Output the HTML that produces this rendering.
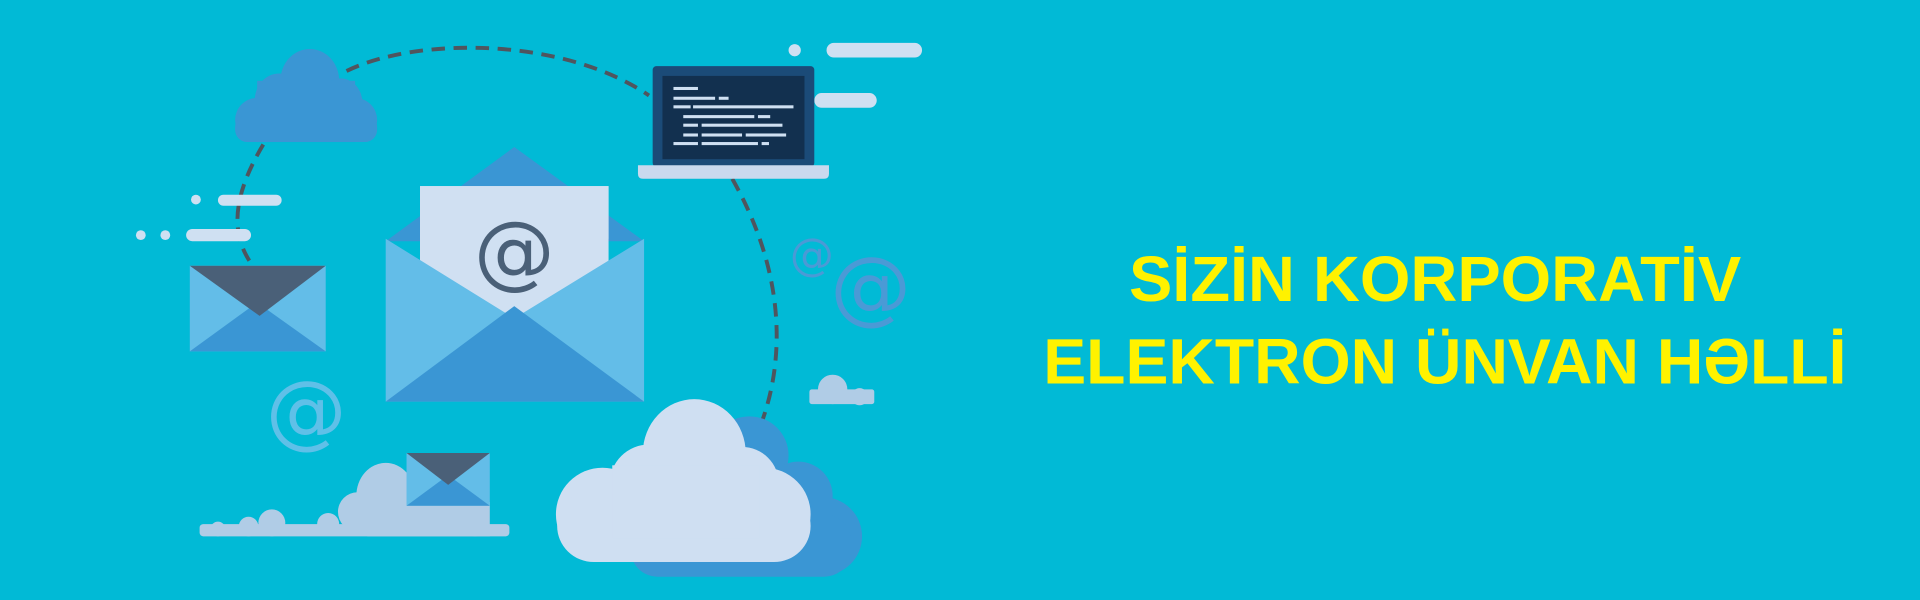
<!DOCTYPE html>
<html><head><style>
html,body{margin:0;padding:0;background:#01BAD6;}
svg{display:block;}
</style></head><body>
<svg width="1920" height="600" viewBox="0 0 1568 490" preserveAspectRatio="none" xmlns="http://www.w3.org/2000/svg">
<rect width="1568" height="490" fill="#01BAD6"/>
<!-- dashed arc -->
<path d="M283,58 C340,30 460,30 530,78" fill="none" stroke="#50555e" stroke-width="3.2" stroke-dasharray="11 7"/>
<path d="M215,118 C190,160 188,190 205,215" fill="none" stroke="#50555e" stroke-width="3.2" stroke-dasharray="11 7"/>
<path d="M598,146 C640,220 642,290 622,345" fill="none" stroke="#50555e" stroke-width="3.2" stroke-dasharray="11 7"/>
<!-- top-left cloud -->
<g fill="#3a96d4">
<ellipse cx="253" cy="66" rx="24" ry="26"/>
<ellipse cx="228" cy="82" rx="20" ry="22"/>
<ellipse cx="278" cy="84" rx="18" ry="20"/>
<ellipse cx="210" cy="98" rx="18" ry="18"/>
<ellipse cx="290" cy="98" rx="18" ry="18"/>
<rect x="210" y="66" width="80" height="50"/>
<rect x="192" y="94" width="116" height="22" rx="10"/>
</g>
<!-- bars and dots -->
<g fill="#cfe0f2">
<circle cx="649" cy="41" r="5"/><rect x="675" y="35" width="78" height="12" rx="6"/>
<rect x="665" y="76" width="51" height="12" rx="6"/>
<circle cx="160" cy="163" r="4"/><rect x="178" y="159" width="52" height="9" rx="4.5"/>
<circle cx="115" cy="192" r="4"/><circle cx="135" cy="192" r="4"/><rect x="152" y="187" width="53" height="10" rx="5"/>
</g>
<!-- laptop -->
<rect x="533" y="54" width="132" height="82" rx="3" fill="#1b4b78"/>
<rect x="541" y="62" width="116" height="68" fill="#12304f"/>
<g fill="#cfe0f2">
<rect x="550" y="71" width="20" height="2.5"/>
<rect x="550" y="79" width="34" height="2.5"/><rect x="587" y="79" width="8" height="2.5"/>
<rect x="550" y="86" width="14" height="2.5"/><rect x="566" y="86" width="82" height="2.5"/>
<rect x="558" y="94" width="58" height="2.5"/><rect x="619" y="94" width="10" height="2.5"/>
<rect x="558" y="101" width="12" height="2.5"/><rect x="573" y="101" width="66" height="2.5"/>
<rect x="558" y="109" width="12" height="2.5"/><rect x="573" y="109" width="33" height="2.5"/><rect x="609" y="109" width="33" height="2.5"/>
<rect x="550" y="116" width="20" height="2.5"/><rect x="573" y="116" width="46" height="2.5"/><rect x="622" y="116" width="6" height="2.5"/>
</g>
<path d="M521,135 H677 V142 Q677,146 673,146 H525 Q521,146 521,142 Z" fill="#c9d9ee"/>
<!-- small envelope left -->
<rect x="155" y="217" width="111" height="70" fill="#63bde8"/>
<polygon points="155,287 210,247 266,287" fill="#3a96d4"/>
<polygon points="155,217 266,217 212,258" fill="#4a6078"/>
<!-- big envelope -->
<polygon points="315,197 420,120 526,197" fill="#3a96d4"/>
<rect x="343" y="152" width="154" height="110" fill="#d0e0f2"/>
<polygon points="315,195 420,260 526,195 526,328 315,328" fill="#63bde8"/>
<polygon points="343,195 420,258 497,195 497,152 343,152" fill="#d0e0f2"/>
<polygon points="315,328 420,250 526,328" fill="#3a96d4"/>
<text x="420" y="228" text-anchor="middle" font-family="DejaVu Sans, sans-serif" font-size="66" fill="#4a6078">@</text>
<!-- @ symbols -->
<text x="663" y="220" text-anchor="middle" font-family="DejaVu Sans, sans-serif" font-size="36" fill="#4a9ad6">@</text>
<text x="711" y="257" text-anchor="middle" font-family="DejaVu Sans, sans-serif" font-size="66" fill="#4a9ad6">@</text>
<text x="250" y="358" text-anchor="middle" font-family="DejaVu Sans, sans-serif" font-size="66" fill="#5fc0e8">@</text>
<!-- small cloud right -->
<g fill="#b0cce6"><circle cx="680" cy="318" r="12"/><circle cx="702" cy="324" r="7"/><rect x="661" y="318" width="53" height="12" rx="2"/></g>
<!-- bottom cloud -->
<g fill="#b0cce6">
<ellipse cx="315" cy="405" rx="24" ry="27"/>
<circle cx="292" cy="418" r="16"/>
<circle cx="268" cy="428" r="9"/><circle cx="222" cy="427" r="11"/><circle cx="203" cy="430" r="8"/><circle cx="178" cy="432" r="6"/>
<circle cx="388" cy="428" r="10"/>
<rect x="300" y="410" width="100" height="28"/>
<rect x="163" y="428" width="253" height="10" rx="3"/>
</g>
<!-- small envelope bottom -->
<rect x="332" y="370" width="68" height="43" fill="#63bde8"/>
<polygon points="332,413 366,388 400,413" fill="#3a96d4"/>
<polygon points="332,370 400,370 366,396" fill="#4a6078"/>
<!-- big cloud back -->
<g fill="#3a96d4">
<circle cx="612" cy="372" r="32"/><circle cx="652" cy="405" r="28"/><circle cx="672" cy="438" r="32"/>
<rect x="515" y="420" width="180" height="51" rx="22"/>
</g>
<!-- big cloud front -->
<g fill="#cfdff2">
<ellipse cx="567" cy="370" rx="42" ry="44"/><circle cx="530" cy="395" r="32"/><circle cx="606" cy="395" r="30"/>
<circle cx="492" cy="420" r="38"/><circle cx="624" cy="420" r="38"/>
<rect x="455" y="400" width="207" height="59" rx="30"/>
<rect x="500" y="380" width="120" height="60"/>
</g>
<!-- title -->
<g font-family="Liberation Sans, DejaVu Sans, sans-serif" font-weight="bold" font-size="52" fill="#fff200" text-anchor="middle">
<text x="1172" y="246" textLength="500" lengthAdjust="spacingAndGlyphs">SİZİN KORPORATİV</text>
<text x="1180" y="313" textLength="656" lengthAdjust="spacingAndGlyphs">ELEKTRON ÜNVAN HƏLLİ</text>
</g>
</svg>
</body></html>
